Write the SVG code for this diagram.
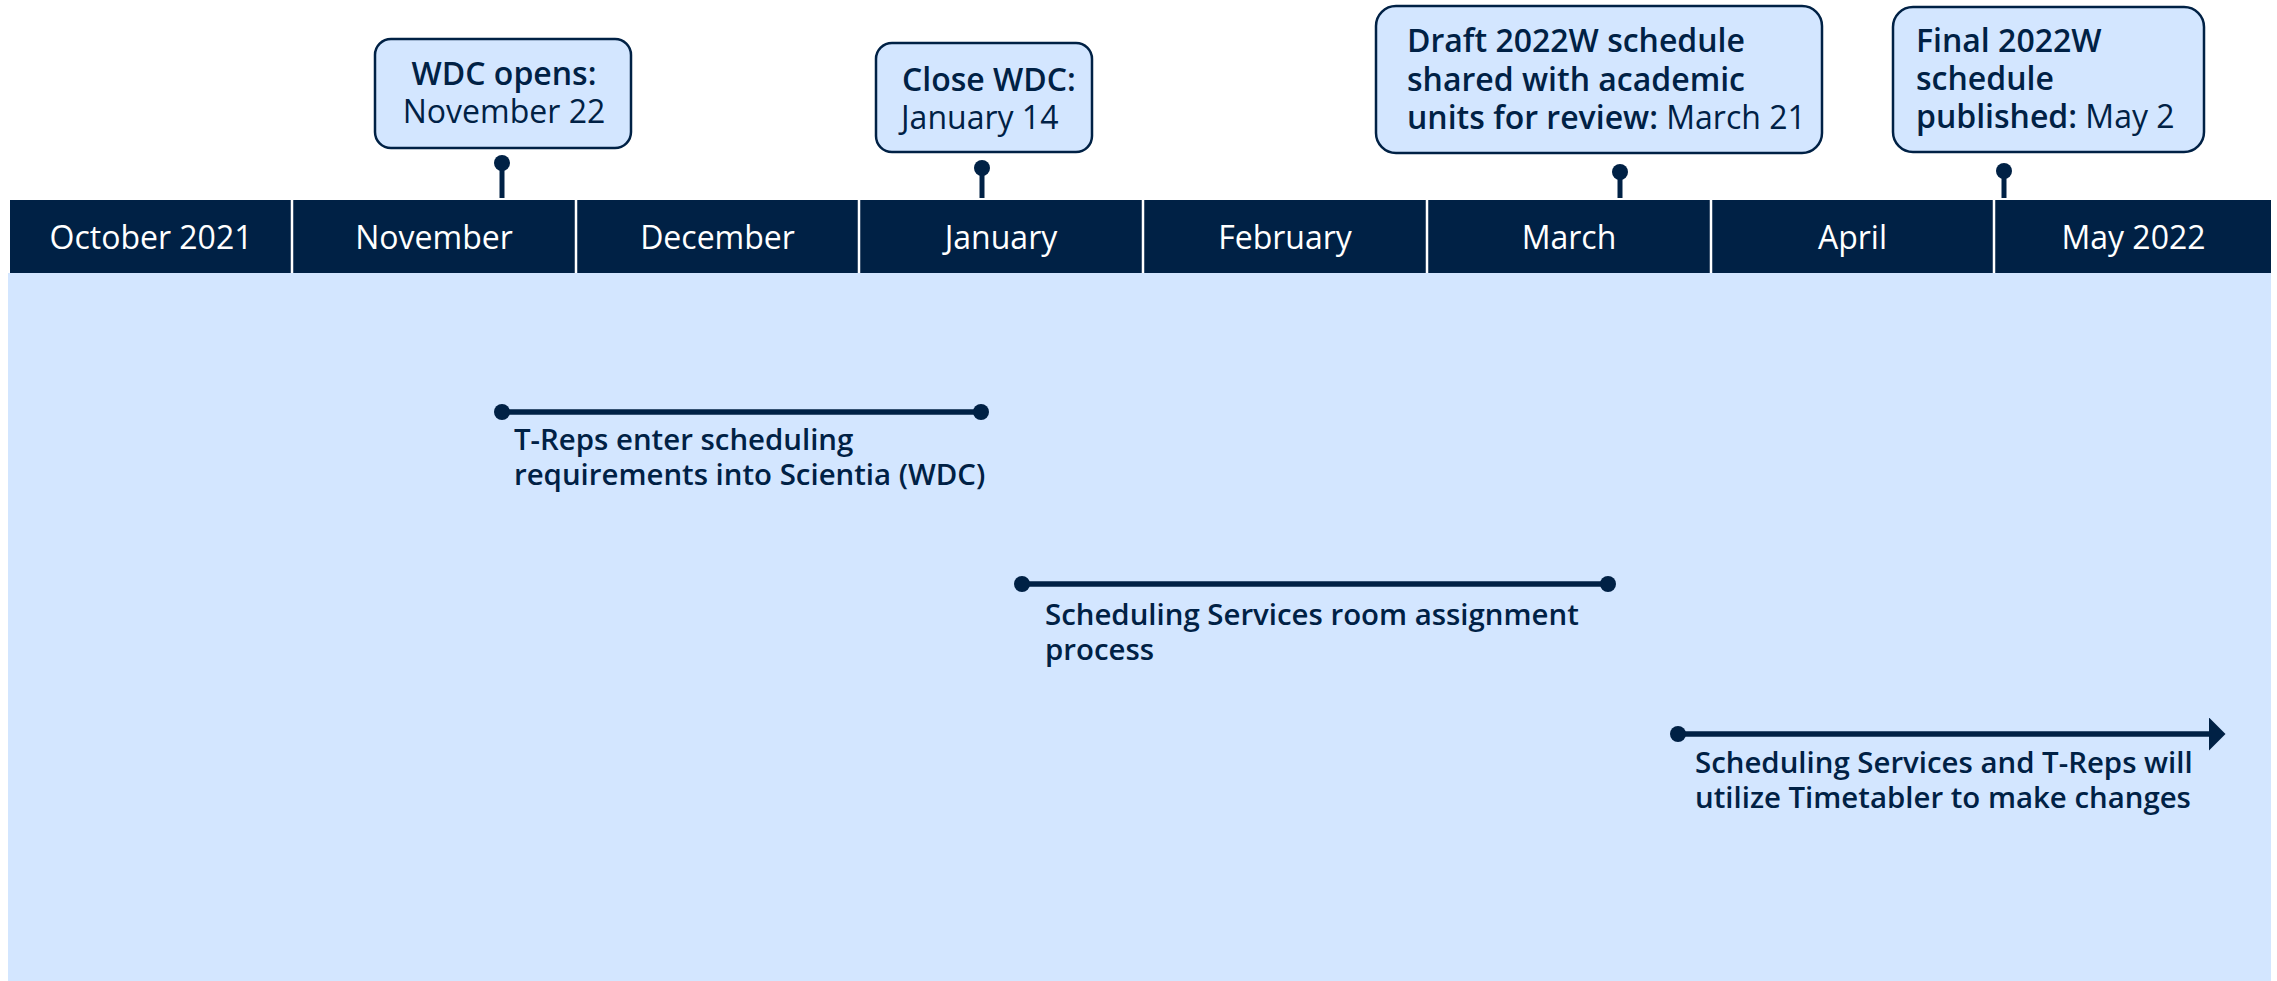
<svg xmlns="http://www.w3.org/2000/svg" width="2277" height="981" viewBox="0 0 2277 981">
<defs>
<style>
.bg{fill:#d3e6ff}
.hdr{fill:#002145}
.div{stroke:#ffffff;stroke-width:2.5}
.month{font-family:"Open Sans","Noto Sans","Liberation Sans",sans-serif;font-size:32px;fill:#ffffff;text-anchor:middle}
.box{fill:#d3e6ff;stroke:#002145;stroke-width:2.5}
.bt{font-family:"Open Sans","Noto Sans","Liberation Sans",sans-serif;font-size:32px;fill:#002145}
.b{font-weight:650}
.stem{stroke:#002145;stroke-width:5}
.dot{fill:#002145}
.bar{stroke:#002145;stroke-width:5.5;fill:none}
.lbl{font-family:"Open Sans","Noto Sans","Liberation Sans",sans-serif;font-size:29.4px;font-weight:600;fill:#002145}
</style>
<marker id="arr" markerWidth="6" markerHeight="6" refX="0" refY="3" orient="auto" markerUnits="strokeWidth" viewBox="0 0 6 6">
<path d="M0,0 L3,3 L0,6 Z" fill="#002145"/>
</marker>
</defs>
<rect class="bg" x="8" y="273" width="2263" height="708"/>
<g id="header">
<rect class="hdr" x="10" y="200" width="2261" height="73"/>
<line class="div" x1="292" y1="200" x2="292" y2="273"/>
<line class="div" x1="576" y1="200" x2="576" y2="273"/>
<line class="div" x1="859" y1="200" x2="859" y2="273"/>
<line class="div" x1="1143" y1="200" x2="1143" y2="273"/>
<line class="div" x1="1427" y1="200" x2="1427" y2="273"/>
<line class="div" x1="1711" y1="200" x2="1711" y2="273"/>
<line class="div" x1="1994" y1="200" x2="1994" y2="273"/>
<text class="month" x="151" y="249">October 2021</text>
<text class="month" x="434" y="249">November</text>
<text class="month" x="717.5" y="249">December</text>
<text class="month" x="1001" y="249">January</text>
<text class="month" x="1285" y="249">February</text>
<text class="month" x="1569" y="249">March</text>
<text class="month" x="1852.5" y="249">April</text>
<text class="month" x="2133.5" y="249">May 2022</text>
</g>
<g id="m1">
<rect class="box" x="375" y="39" width="256" height="109" rx="16"/>
<text class="bt b" x="504" y="85" text-anchor="middle">WDC opens:</text>
<text class="bt" x="504" y="123" text-anchor="middle">November 22</text>
<line class="stem" x1="502" y1="163" x2="502" y2="198"/>
<circle class="dot" cx="502" cy="163" r="8"/>
</g>
<g id="m2">
<rect class="box" x="876" y="43" width="216" height="109" rx="16"/>
<text class="bt b" x="902" y="91">Close WDC:</text>
<text class="bt" x="901" y="129">January 14</text>
<line class="stem" x1="982" y1="168" x2="982" y2="198"/>
<circle class="dot" cx="982" cy="168" r="8"/>
</g>
<g id="m3">
<rect class="box" x="1376" y="6" width="446" height="147" rx="20"/>
<text class="bt b" x="1407" y="52">Draft 2022W schedule</text>
<text class="bt b" x="1407" y="91">shared with academic</text>
<text class="bt" x="1407" y="129"><tspan class="b">units for review:</tspan> March 21</text>
<line class="stem" x1="1620" y1="172" x2="1620" y2="198"/>
<circle class="dot" cx="1620" cy="172" r="8"/>
</g>
<g id="m4">
<rect class="box" x="1893" y="7" width="311" height="145" rx="20"/>
<text class="bt b" x="1916" y="52">Final 2022W</text>
<text class="bt b" x="1916" y="90">schedule</text>
<text class="bt" x="1916" y="128"><tspan class="b">published:</tspan> May 2</text>
<line class="stem" x1="2004" y1="171" x2="2004" y2="198"/>
<circle class="dot" cx="2004" cy="171" r="8"/>
</g>
<g id="connectors">
<line class="bar" x1="502" y1="412" x2="981" y2="412"/>
<circle class="dot" cx="502" cy="412" r="8"/>
<circle class="dot" cx="981" cy="412" r="8"/>
<line class="bar" x1="1022" y1="584" x2="1608" y2="584"/>
<circle class="dot" cx="1022" cy="584" r="8"/>
<circle class="dot" cx="1608" cy="584" r="8"/>
<line class="bar" x1="1678" y1="734" x2="2209" y2="734" marker-end="url(#arr)"/>
<circle class="dot" cx="1678" cy="734" r="8"/>
</g>
<g id="s1">
<text class="lbl" x="514" y="450">T-Reps enter scheduling</text>
<text class="lbl" x="514" y="485">requirements into Scientia (WDC)</text>
</g>
<g id="s2">
<text class="lbl" x="1045" y="625">Scheduling Services room assignment</text>
<text class="lbl" x="1045" y="660">process</text>
</g>
<g id="s3">
<text class="lbl" x="1695" y="773">Scheduling Services and T-Reps will</text>
<text class="lbl" x="1695" y="808">utilize Timetabler to make changes</text>
</g>
</svg>
